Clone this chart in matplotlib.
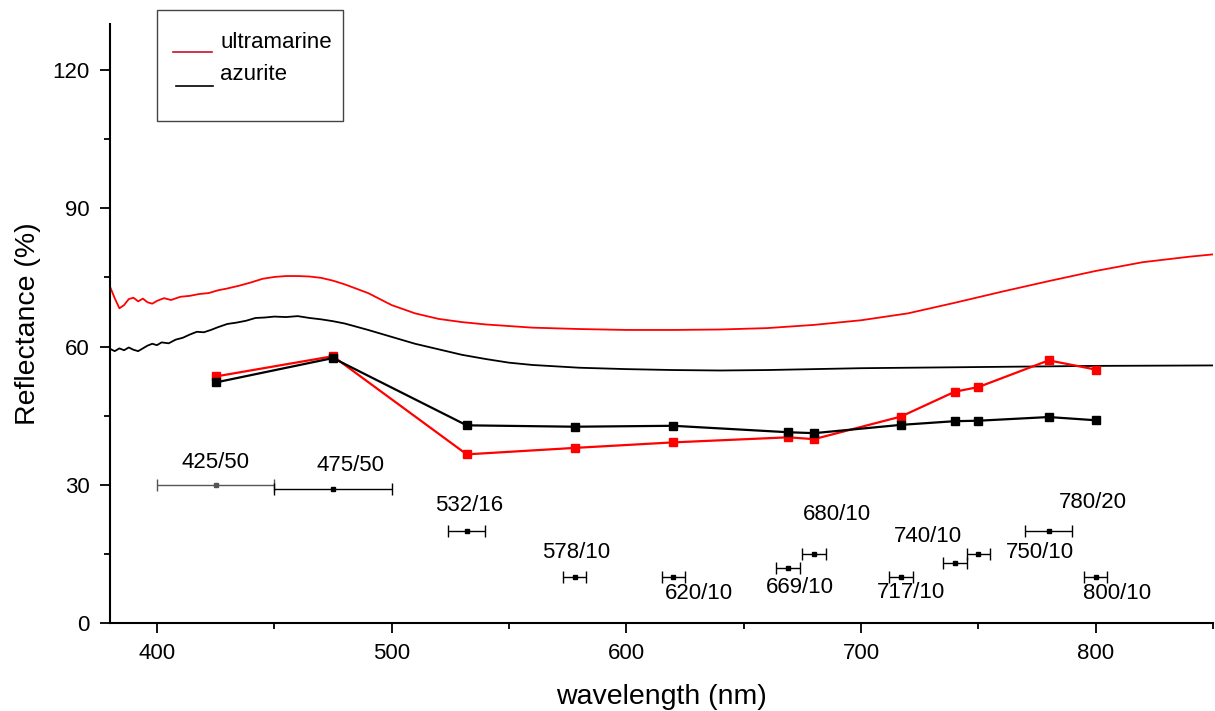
import matplotlib.pyplot as plt
from matplotlib.lines import Line2D
from matplotlib.patches import Rectangle

plt.rcParams['font.family'] = ['Liberation Sans', 'DejaVu Sans']

# reflectance spectra (nm, %)
uwl = [380, 382, 384, 386, 388, 390, 392, 394, 396, 398, 400, 403, 406, 410, 414, 418,
       422, 426, 430, 435, 440, 445, 450, 455, 460, 465, 470, 475, 480, 490, 500, 510,
       520, 530, 540, 560, 580, 600, 620, 640, 660, 680, 700, 720, 740, 760, 780, 800,
       820, 840, 850]
uref = [73.0, 70.5, 68.3, 69.0, 70.3, 70.6, 69.8, 70.4, 69.6, 69.3, 69.9, 70.5, 70.1, 70.8,
        71.0, 71.4, 71.6, 72.2, 72.6, 73.2, 73.9, 74.7, 75.1, 75.3, 75.3, 75.2, 74.9, 74.3,
        73.5, 71.6, 69.0, 67.2, 66.0, 65.3, 64.8, 64.1, 63.8, 63.6, 63.6, 63.7, 64.0, 64.7,
        65.7, 67.2, 69.5, 71.9, 74.2, 76.4, 78.3, 79.5, 80.0]

awl = [380, 382, 384, 386, 388, 390, 392, 394, 396, 398, 400, 402, 405, 408, 411, 414,
       417, 420, 423, 426, 430, 434, 438, 442, 446, 450, 455, 460, 465, 470, 475, 480,
       490, 500, 510, 520, 530, 540, 550, 560, 580, 600, 620, 640, 660, 680, 700, 720,
       740, 760, 780, 800, 850]
aref = [59.5, 59.0, 59.6, 59.2, 59.8, 59.3, 59.0, 59.6, 60.2, 60.6, 60.3, 60.9, 60.7, 61.5,
        61.9, 62.6, 63.2, 63.1, 63.6, 64.2, 64.9, 65.2, 65.6, 66.2, 66.3, 66.5, 66.4, 66.6,
        66.2, 65.9, 65.5, 65.0, 63.6, 62.1, 60.6, 59.4, 58.2, 57.3, 56.5, 56.0, 55.4, 55.1,
        54.9, 54.8, 54.9, 55.1, 55.3, 55.4, 55.5, 55.6, 55.7, 55.8, 55.9]

# filter centres, bandwidths and the level each one is drawn at
fcen = [425, 475, 532, 578, 620, 669, 680, 717, 740, 750, 780, 800]
fbw = [50, 50, 16, 10, 10, 10, 10, 10, 10, 10, 20, 10]
flev = [30, 29, 20, 10, 10, 12, 15, 10, 13, 15, 20, 10]
flab = ['425/50', '475/50', '532/16', '578/10', '620/10', '669/10',
        '680/10', '717/10', '740/10', '750/10', '780/20', '800/10']

# mean reflectance through each filter
ufilt = [53.5, 57.9, 36.6, 38.0, 39.2, 40.3, 39.9, 44.8, 50.2, 51.2, 57.0, 55.0]
afilt = [52.2, 57.5, 42.9, 42.6, 42.8, 41.4, 41.2, 43.0, 43.8, 43.9, 44.7, 44.0]

# where the filter names sit
labpos = [(425, 34.8), (482.6, 34.1), (533.2, 25.4), (578.7, 15.4), (631, 6.5), (673.8, 7.6),
          (689.8, 23.5), (721.3, 6.7), (728.5, 18.7), (776.2, 15.4), (798.9, 26.1), (809.1, 6.5)]

fig = plt.figure(figsize=(12.15, 7.11), dpi=100)
ax = fig.add_axes([110 / 1215, 88 / 711, 1103 / 1215, 599 / 711])

ax.plot(uwl, uref, color='red', lw=1.3)
ax.plot(awl, aref, color='black', lw=1.3)
ax.plot(fcen, ufilt, color='red', lw=1.6, marker='s', ms=5.5)
ax.plot(fcen, afilt, color='black', lw=1.6, marker='s', ms=5.5)

for c, w, lv, lab, pos in zip(fcen, fbw, flev, flab, labpos):
    col = '#555555' if lab == '425/50' else 'black'
    ax.errorbar(c, lv, xerr=w / 2, fmt='s', color=col, ms=3, lw=1.0,
                capsize=4, capthick=1.0)
    ax.text(pos[0], pos[1], lab, ha='center', va='center', fontsize=16)

ax.set_xlim(380, 850)
ax.set_ylim(0, 130)
ax.set_xticks([400, 500, 600, 700, 800])
ax.set_xticks([450, 550, 650, 750, 850], minor=True)
ax.set_yticks([0, 30, 60, 90, 120])
ax.set_yticks([15, 45, 75, 105], minor=True)
ax.spines['top'].set_visible(False)
ax.spines['right'].set_visible(False)
for s in ('left', 'bottom'):
    ax.spines[s].set_linewidth(1.5)
ax.tick_params(which='major', direction='out', length=7, width=1.3, labelsize=16, pad=7.5)
ax.tick_params(which='minor', direction='out', length=4, width=1.3)
ax.set_xlabel('wavelength (nm)', fontsize=20.5, labelpad=14)
ax.set_ylabel('Reflectance (%)', fontsize=20.5, labelpad=8)

# legend box
fig.add_artist(Rectangle((157 / 1215, 1 - 121 / 711), 186 / 1215, 111 / 711,
                         transform=fig.transFigure, fill=False, ec='#444444', lw=1.0))
fig.add_artist(Line2D([173 / 1215, 212 / 1215], [1 - 52 / 711] * 2,
                      transform=fig.transFigure, color='#c8102e', lw=1.2))
fig.add_artist(Line2D([176 / 1215, 213 / 1215], [1 - 86 / 711] * 2,
                      transform=fig.transFigure, color='black', lw=1.2))
fig.text(220 / 1215, 1 - 42 / 711, 'ultramarine', fontsize=16, va='center')
fig.text(220 / 1215, 1 - 75 / 711, 'azurite', fontsize=16, va='center')

fig.savefig('out.png', dpi=100)
